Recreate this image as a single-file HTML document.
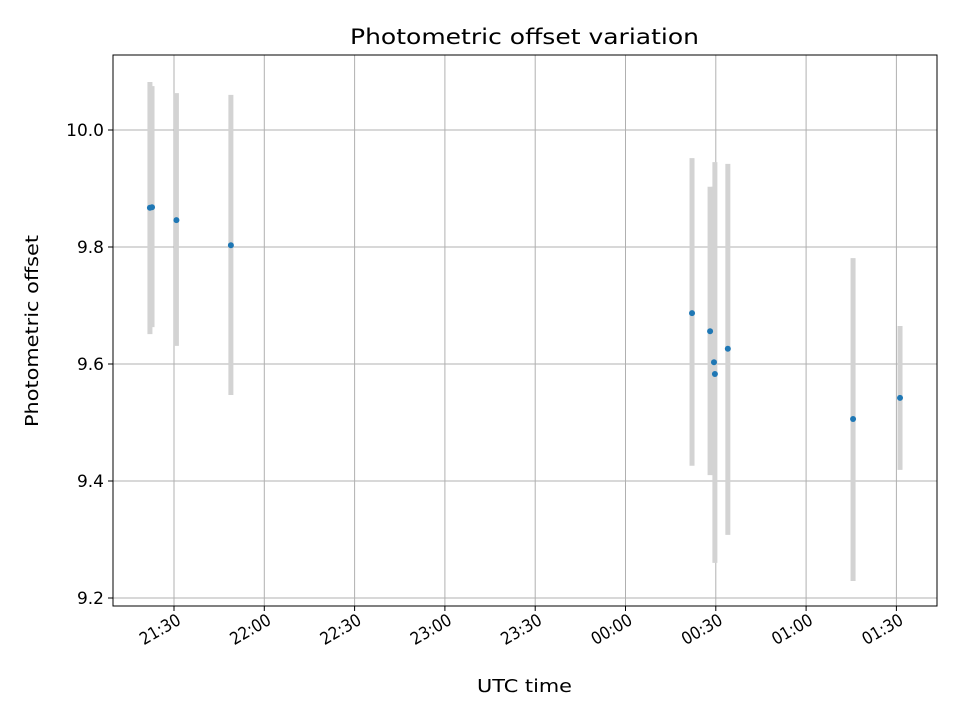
<!DOCTYPE html>
<html><head><meta charset="utf-8"><style>
body{margin:0;background:#fff}
svg{font-family:"DejaVu Sans","Liberation Sans",sans-serif}
</style></head><body>
<svg id="chart" width="960" height="720" xmlns="http://www.w3.org/2000/svg">
<rect width="960" height="720" fill="#fff"/>
<g id="grid"></g>
<g id="bars"></g>
<g id="pts"></g>
<rect x="113" y="55" width="824" height="551" fill="none" stroke="#000" stroke-width="1"/>
<g id="ticks"></g>
<text x="350" y="44" textLength="349" lengthAdjust="spacingAndGlyphs" font-size="21">Photometric offset variation</text>
<text x="477" y="692" textLength="95" lengthAdjust="spacingAndGlyphs" font-size="18">UTC time</text>
<text transform="translate(38,427) rotate(-90)" textLength="192" lengthAdjust="spacingAndGlyphs" font-size="18">Photometric offset</text>
</svg>
<script>
// minutes since 21:00 UTC
const times=[22.0,22.7,30.8,48.9,202.1,208.1,209.4,209.7,214.0,255.6,271.2];
const values=[9.867,9.868,9.846,9.803,9.687,9.656,9.603,9.583,9.626,9.506,9.542];
const upper=[10.082,10.075,10.063,10.060,9.952,9.903,9.903,9.945,9.942,9.781,9.665];
const lower=[9.651,9.663,9.631,9.547,9.426,9.410,9.410,9.260,9.308,9.229,9.419];
const xTickMins=[30,60,90,120,150,180,210,240,270];
const xTickLabels=["21:30","22:00","22:30","23:00","23:30","00:00","00:30","01:00","01:30"];
const yTicks=[9.2,9.4,9.6,9.8,10.0];
const yTickLabels=["9.2","9.4","9.6","9.8","10.0"];
const NS="http://www.w3.org/2000/svg";
function X(t){return 174+(t-30)*90.3/30;}
function Y(v){return 130+(10-v)*585;}
function mk(tag,a,p){const e=document.createElementNS(NS,tag);for(const k in a)e.setAttribute(k,a[k]);p.appendChild(e);return e;}
const grid=document.getElementById('grid'),ticks=document.getElementById('ticks'),bars=document.getElementById('bars'),pts=document.getElementById('pts');
xTickMins.forEach((t,i)=>{const x=X(t);
 const g=mk('line',{x1:x,x2:x,y1:55,y2:606,stroke:'#b0b0b0','stroke-width':1},grid);
 
 
 const tk=mk('line',{x1:x,x2:x,y1:606,y2:611,stroke:'#000'},ticks);
 
 
 const tx=mk('text',{x:x+2,y:613,'text-anchor':'end','dominant-baseline':'hanging','font-size':17,textLength:44,lengthAdjust:'spacingAndGlyphs',transform:`rotate(-30 ${x+2} 613)`},ticks);
 tx.textContent=xTickLabels[i];
 
 
});
yTicks.forEach((v,i)=>{const y=Y(v);
 const g=mk('line',{x1:113,x2:937,y1:y,y2:y,stroke:'#b0b0b0','stroke-width':1},grid);
 
 
 const tk=mk('line',{x1:108,x2:113,y1:y,y2:y,stroke:'#000'},ticks);
 
 
 const tx=mk('text',{x:104,y:y+6,'text-anchor':'end','font-size':17},ticks);
 tx.textContent=yTickLabels[i];
 
 
});
times.forEach((t,i)=>{const x=X(t);
 const b=mk('line',{x1:x,x2:x,y1:Y(upper[i]),y2:Y(lower[i]),stroke:'#d3d3d3','stroke-width':5},bars);
 
 
});
times.forEach((t,i)=>{
 const c=mk('circle',{cx:X(t),cy:Y(values[i]),r:3,fill:'#1f77b4'},pts);
 
 
});
</script>
</body></html>
